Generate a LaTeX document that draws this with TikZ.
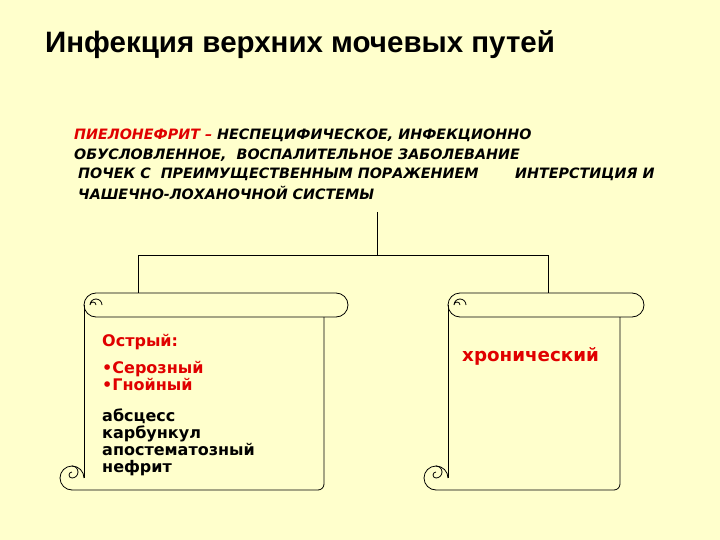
\documentclass[tikz,border=0pt]{standalone}
\usepackage{fontspec}
\setmainfont{DejaVu Sans}
\newfontfamily\titlefont{Liberation Sans}
\definecolor{bg}{HTML}{FFFFCC}
\definecolor{redtxt}{HTML}{E00000}
\begin{document}
\begin{tikzpicture}[x=1pt,y=-1pt,
  hdr/.style={anchor=west,inner sep=0,font=\fontsize{14.3}{16}\selectfont\bfseries\itshape},
  body/.style={anchor=north west,inner sep=0,align=left,font=\fontsize{16}{17}\selectfont\bfseries},
  ln/.style={line width=0.8pt}]
\fill[bg] (0,0) rectangle (720,540);
\useasboundingbox (0,0) rectangle (720,540);
\node[anchor=west,inner sep=0,font=\titlefont\fontsize{29.5}{32}\selectfont\bfseries] (title) at (45,45) {Инфекция верхних мочевых путей};
\node[hdr] (h1) at (74,135) {\textcolor{redtxt}{ПИЕЛОНЕФРИТ –} НЕСПЕЦИФИЧЕСКОЕ, ИНФЕКЦИОННО};
\node[hdr] (h2) at (74,155) {ОБУСЛОВЛЕННОЕ,\ \ ВОСПАЛИТЕЛЬНОЕ ЗАБОЛЕВАНИЕ};
\node[hdr] (h3) at (78,174) {ПОЧЕК С\ \ ПРЕИМУЩЕСТВЕННЫМ ПОРАЖЕНИЕМ};
\node[hdr] (h3b) at (515,174) {ИНТЕРСТИЦИЯ И};
\node[hdr] (h4) at (78,193) {ЧАШЕЧНО-ЛОХАНОЧНОЙ СИСТЕМЫ};
% tree
\coordinate (t0) at (377,212);
\coordinate (t1) at (377,255);
\coordinate (tl) at (138,255);
\coordinate (tr) at (548,255);
\coordinate (bl) at (138,293);
\coordinate (br) at (548,293);
\draw[ln] (t0)--(t1) (tl)--(tr) (tl)--(bl) (tr)--(br);
% scrolls
\foreach \L/\R/\B in {84/324/490, 448/620/490}{
  \draw[ln] (\L+12,293) -- (\R+12,293) arc(-90:90:12) -- (\L+12,317) arc(90:270:12);
  \draw[ln] (\L+18,305) arc(0:-180:6) arc(180:360:3);
  \draw[ln] (\L,305) -- (\L,\B-12);
  \draw[ln] (\R,317) -- (\R,\B-6) arc(0:90:6) -- (\L-12,\B);
  \draw[ln] (\L-12,\B) arc(90:360:12);
  \draw[ln] (\L-12,\B-24) arc(-90:90:6) arc(90:270:3);
}
\node[body] (acute) at (102,334) {\textcolor{redtxt}{Острый:}};
\node[body] (types) at (102,361) {\textcolor{redtxt}{•Серозный}\\\textcolor{redtxt}{•Гнойный}};
\node[body] (forms) at (102,409) {абсцесс\\карбункул\\апостематозный\\нефрит};
\node[anchor=west,inner sep=0,font=\fontsize{18.3}{20}\selectfont\bfseries,text=redtxt] (chronic) at (462,356) {хронический};
\end{tikzpicture}
\end{document}
